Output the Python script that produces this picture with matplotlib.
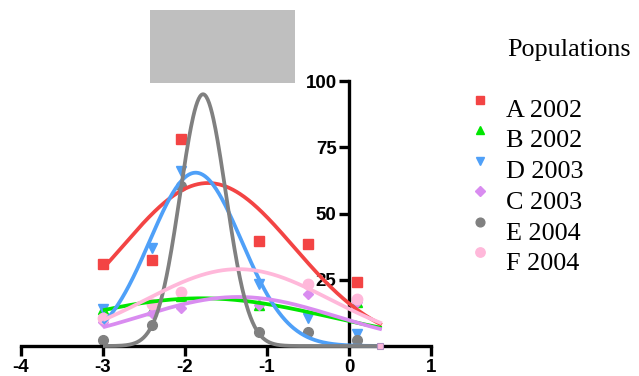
import numpy as np
import matplotlib
matplotlib.use("Agg")
import matplotlib.pyplot as plt
from matplotlib.patches import Rectangle

# ---- data ----
x_obs = [-3.0, -2.4, -2.05, -1.1, -0.5, 0.1]
series_names = ["A 2002", "B 2002", "D 2003", "C 2003", "E 2004", "F 2004"]
A_2002 = [31, 32.5, 78, 39.5, 38.5, 24]
B_2002 = [14, 13.5, 19, 15.5, np.nan, 16.5]
D_2003 = [14, 37, 66, 23.5, 10.5, 4.5]
C_2003 = [9, 12.5, 14.3, 15.4, 19.5, 16.5]
E_2004 = [2.3, 7.9, 60.5, 5.3, 5.2, 2.3]
F_2004 = [10.5, 16, 20.3, np.nan, 23.3, 17.7]
# Gaussian fit parameters: amplitude, mean, sd
fit_amp = [61.5, 18.0, 65.4, 18.5, 95.0, 29.0]
fit_mean = [-1.72, -1.80, -1.87, -1.35, -1.78, -1.35]
fit_sd = [1.05, 1.58, 0.56, 1.19, 0.278, 1.12]
fit_range = [-3.0, 0.4]
extra_x = [0.38]
extra_y = [0]
x_ticks = [-4, -3, -2, -1, 0, 1]
y_ticks = [25, 50, 75, 100]

colors = ["#F34444", "#00E600", "#4FA0F8", "#D98CF0", "#808080", "#FFB8DA"]
markers = ["s", "^", "v", "D", "o", "o"]
msizes = [7, 7, 7, 5.5, 7, 7.5]
values = [A_2002, B_2002, D_2003, C_2003, E_2004, F_2004]

W, H = 639, 376
fig = plt.figure(figsize=(W / 100, H / 100), dpi=100)
ax = fig.add_axes([21 / W, (H - 346) / H, 410 / W, 265 / H])
ax.set_xlim(-4, 1)
ax.set_ylim(0, 100)

xx = np.linspace(fit_range[0], fit_range[1], 400)
for i in range(6):
    ax.plot(x_obs, values[i], linestyle="none", marker=markers[i], ms=msizes[i],
            color=colors[i], mec=colors[i], clip_on=False, zorder=2)
for i in range(6):
    yy = fit_amp[i] * np.exp(-(xx - fit_mean[i]) ** 2 / (2 * fit_sd[i] ** 2))
    ax.plot(xx, yy, color=colors[i], lw=2.7, clip_on=False, zorder=3,
            solid_capstyle="butt")
ax.plot(extra_x, extra_y, linestyle="none", marker="s", ms=4.5, mfc="#FFB8DA",
        mec="#B090C0", mew=0.8, clip_on=False, zorder=4)

for s in ["top", "right"]:
    ax.spines[s].set_visible(False)
ax.spines["left"].set_position(("data", 0))
ax.spines["bottom"].set_position(("data", 0))
ax.spines["left"].set_bounds(0, 100)
ax.spines["left"].set_linewidth(2.4)
ax.spines["bottom"].set_linewidth(2.4)
ax.set_xticks(x_ticks)
ax.set_xticklabels([str(t) for t in x_ticks])
ax.set_yticks(y_ticks)
ax.set_yticklabels([str(t) for t in y_ticks])
ax.tick_params(axis="both", direction="out", length=7, width=2.4, pad=2,
               labelsize=13.5)
for lab in ax.get_xticklabels() + ax.get_yticklabels():
    lab.set_fontfamily("Liberation Sans")
    lab.set_fontweight("bold")
ax.patch.set_visible(False)

# overlay in pixel coordinates for the placeholder block and legend
ov = fig.add_axes([0, 0, 1, 1], zorder=-1)
ov.set_xlim(0, W)
ov.set_ylim(H, 0)
ov.axis("off")
ov.add_patch(Rectangle((150, 10), 145, 73, color="#BFBFBF", lw=0))

ov2 = fig.add_axes([0, 0, 1, 1])
ov2.set_xlim(0, W)
ov2.set_ylim(H, 0)
ov2.axis("off")
ov2.text(507, 56, "Populations", fontsize=18.8, family="Liberation Serif",
         va="baseline", ha="left")
for i, name in enumerate(series_names):
    ov2.plot([480], [100 + 30.4 * i], marker=markers[i], ms=msizes[i] * 0.9,
             color=colors[i], linestyle="none")
    ov2.text(506, 116.7 + 30.7 * i, name, fontsize=18.8,
             family="Liberation Serif", va="baseline", ha="left")

fig.savefig("out.png", dpi=100)
